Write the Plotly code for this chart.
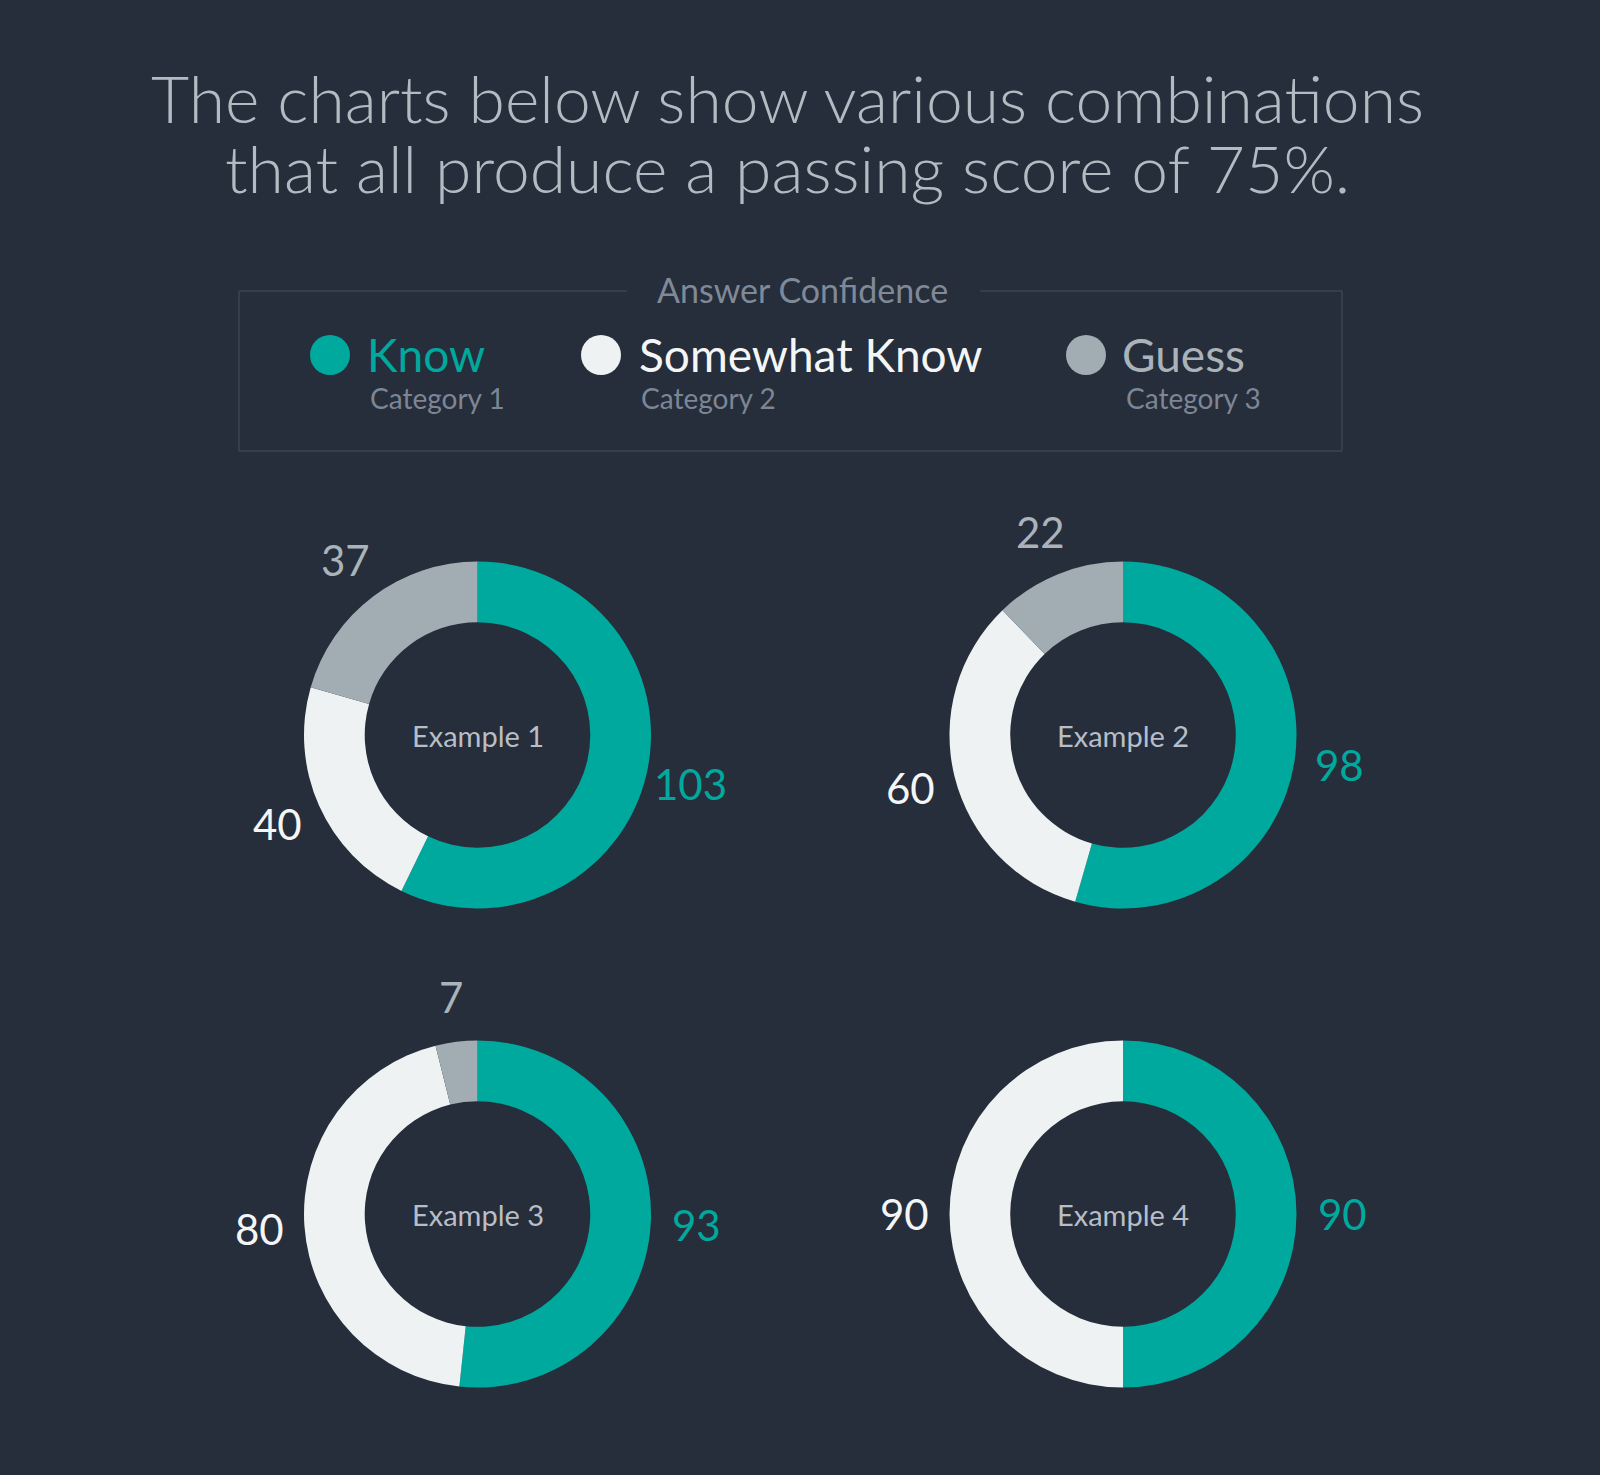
import math
import plotly.graph_objects as go

# ---------------- data ----------------
categories = ["Know", "Somewhat Know", "Guess"]
category_notes = ["Category 1", "Category 2", "Category 3"]
examples = ["Example 1", "Example 2", "Example 3", "Example 4"]
know = [103, 98, 93, 90]
somewhat_know = [40, 60, 80, 90]
guess = [37, 22, 7, 0]
title_lines = ["The charts below show various combinations",
               "that all produce a passing score of 75%."]
legend_title = "Answer Confidence"

# ---------------- style ----------------
W, H = 1600, 1475
BG = "#262d3b"
slice_colors = ["#00a99d", "#eef2f2", "#a2adb3"]
label_colors = ["#00a99d", "#f4f6f6", "#a9b3b9"]
FONT = "Lato"

centers = [(477.5, 735), (1123, 735), (477.5, 1214), (1123, 1214)]
R = 173.5
HOLE = 0.65
LABEL_R = 219

fig = go.Figure()

# full-figure pixel canvas for text / legend
fig.add_trace(go.Scatter(
    x=[330, 601, 1086], y=[355, 355, 355], mode="markers",
    marker=dict(size=40, color=slice_colors, line=dict(width=0)),
    hoverinfo="skip", showlegend=False))

annotations = []
for i, line in enumerate(title_lines):
    annotations.append(dict(
        x=787, y=97 + i * 70, xref="x", yref="y", text=line, showarrow=False,
        xanchor="center", yanchor="middle",
        font=dict(family=FONT, size=66, color="#b3bbc2", weight=300)))

annotations.append(dict(
    x=802, y=289, xref="x", yref="y", text=legend_title, showarrow=False,
    xanchor="center", yanchor="middle",
    font=dict(family=FONT, size=34, color="#808997")))

legend_text_x = [365, 637, 1120]
note_x = [368, 639, 1124]
for i, cat in enumerate(categories):
    annotations.append(dict(
        x=legend_text_x[i], y=354, xref="x", yref="y", text=cat, showarrow=False,
        xanchor="left", yanchor="middle",
        font=dict(family=FONT, size=46, color=label_colors[i])))
    annotations.append(dict(
        x=note_x[i], y=398, xref="x", yref="y", text=category_notes[i], showarrow=False,
        xanchor="left", yanchor="middle",
        font=dict(family=FONT, size=28, color="#7d8694")))

# legend frame (with gap for its title)
frame_col = "#3d4555"
bx0, bx1, by0, by1 = 239, 1342, 291, 451
gap0, gap1 = 627, 980
shapes = [
    dict(type="line", xref="x", yref="y", x0=bx0, x1=gap0, y0=by0, y1=by0, line=dict(color=frame_col, width=1.5)),
    dict(type="line", xref="x", yref="y", x0=gap1, x1=bx1, y0=by0, y1=by0, line=dict(color=frame_col, width=1.5)),
    dict(type="line", xref="x", yref="y", x0=bx0, x1=bx1, y0=by1, y1=by1, line=dict(color=frame_col, width=1.5)),
    dict(type="line", xref="x", yref="y", x0=bx0, x1=bx0, y0=by0, y1=by1, line=dict(color=frame_col, width=1.5)),
    dict(type="line", xref="x", yref="y", x0=bx1, x1=bx1, y0=by0, y1=by1, line=dict(color=frame_col, width=1.5)),
]

# donuts
for k, name in enumerate(examples):
    cx, cy = centers[k]
    vals = [know[k], somewhat_know[k], guess[k]]
    fig.add_trace(go.Pie(
        labels=categories, values=vals, hole=HOLE, sort=False,
        direction="clockwise", rotation=0,
        marker=dict(colors=slice_colors, line=dict(width=0)),
        textinfo="none", hoverinfo="label+value", showlegend=False,
        domain=dict(x=[(cx - R) / W, (cx + R) / W],
                    y=[1 - (cy + R) / H, 1 - (cy - R) / H])))
    annotations.append(dict(
        x=cx, y=cy, xref="x", yref="y", text=name, showarrow=False,
        xanchor="center", yanchor="middle",
        font=dict(family=FONT, size=29, color="#b7bec6")))
    total = sum(vals)
    cum = 0
    for j, v in enumerate(vals):
        if v > 0:
            theta = math.radians(360 * (cum + v / 2) / total)
            annotations.append(dict(
                x=cx + LABEL_R * math.sin(theta), y=cy - LABEL_R * math.cos(theta),
                xref="x", yref="y", text=str(v), showarrow=False,
                xanchor="center", yanchor="middle",
                font=dict(family=FONT, size=42, color=label_colors[j])))
        cum += v

fig.update_layout(
    width=W, height=H, margin=dict(l=0, r=0, t=0, b=0),
    paper_bgcolor=BG, plot_bgcolor=BG, showlegend=False,
    xaxis=dict(range=[0, W], visible=False, fixedrange=True, domain=[0, 1]),
    yaxis=dict(range=[H, 0], visible=False, fixedrange=True, domain=[0, 1]),
    annotations=annotations, shapes=shapes,
)

fig.write_html("out.html",
               config={"displayModeBar": False},
               post_script="document.body.style.margin='0';document.body.style.background='#262d3b';")
